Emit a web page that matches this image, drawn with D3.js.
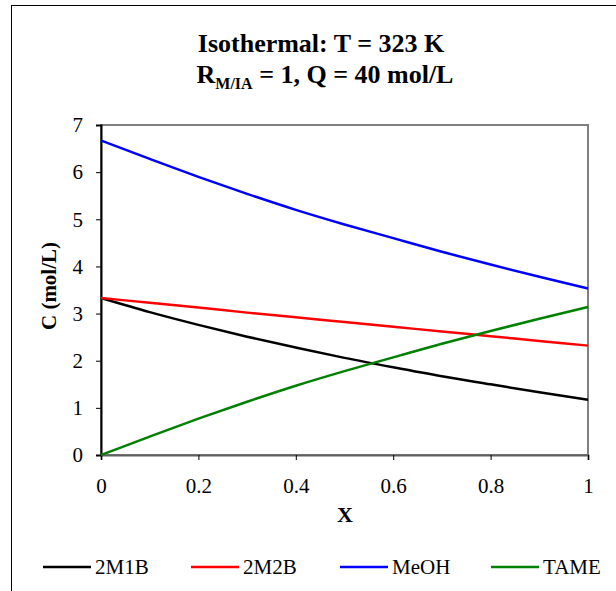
<!DOCTYPE html>
<html>
<head>
<meta charset="utf-8">
<script src="https://cdn.jsdelivr.net/npm/d3@7"></script>
<style>
  body { margin: 0; background: #fff; }
  text { font-family: "Liberation Serif", "Times New Roman", serif; }
</style>
</head>
<body>
<div id="chart"></div>
<script>
// conversion X
var xValues = [0, 0.1, 0.2, 0.3, 0.4, 0.5, 0.6, 0.7, 0.8, 0.9, 1];

// concentrations (mol/L)
var c2M1B = [3.33, 3.03, 2.76, 2.51, 2.28, 2.06, 1.86, 1.67, 1.50, 1.33, 1.17];
var c2M2B = [3.33, 3.23, 3.13, 3.02, 2.92, 2.82, 2.72, 2.62, 2.52, 2.42, 2.32];
var cMeOH = [6.67, 6.28, 5.90, 5.54, 5.20, 4.89, 4.60, 4.31, 4.04, 3.78, 3.53];
var cTAME = [0, 0.39, 0.77, 1.13, 1.47, 1.78, 2.07, 2.36, 2.63, 2.89, 3.14];

var seriesNames = ['2M1B', '2M2B', 'MeOH', 'TAME'];
var seriesColors = ['#000000', '#ff0000', '#0000ff', '#008000'];
var xTicks = [0, 0.2, 0.4, 0.6, 0.8, 1];
var yTicks = [0, 1, 2, 3, 4, 5, 6, 7];

var series = [c2M1B, c2M2B, cMeOH, cTAME].map(function(vals, i) {
  return {
    name: seriesNames[i],
    color: seriesColors[i],
    values: vals.map(function(v, j) { return {x: xValues[j], y: v}; })
  };
});

var width = 616, height = 591;
var margin = {top: 125, right: 28, bottom: 136, left: 101};
var serif = '"Liberation Serif", "Times New Roman", serif';

var svg = d3.select('#chart').append('svg')
  .attr('width', width)
  .attr('height', height);

svg.append('rect')
  .attr('width', width).attr('height', height)
  .attr('fill', '#fff');

// outer chart border (runs off the right / bottom edge)
svg.append('rect')
  .attr('x', 11.5).attr('y', 5.5)
  .attr('width', 700).attr('height', 700)
  .attr('fill', 'none')
  .attr('stroke', '#000')
  .attr('stroke-width', 1);

var x = d3.scaleLinear().domain([0, 1]).range([margin.left, width - margin.right]);
var y = d3.scaleLinear().domain([0, 7]).range([height - margin.bottom, margin.top]);

// title
svg.append('text')
  .attr('x', 321).attr('y', 52)
  .attr('text-anchor', 'middle')
  .style('font-size', '26px')
  .style('font-weight', 'bold')
  .text('Isothermal: T = 323 K');

var t2 = svg.append('text')
  .attr('x', 325).attr('y', 83)
  .attr('text-anchor', 'middle')
  .style('font-size', '26px')
  .style('font-weight', 'bold');
t2.append('tspan').text('R');
t2.append('tspan').attr('dy', 6).style('font-size', '16px').text('M/IA');
t2.append('tspan').attr('dy', -6).text(' = 1, Q = 40 mol/L');

// plot area border
svg.append('rect')
  .attr('x', x(0)).attr('y', y(7))
  .attr('width', x(1) - x(0)).attr('height', y(0) - y(7))
  .attr('fill', 'none')
  .attr('stroke', '#808080')
  .attr('stroke-width', 2);

// axes
var xAxis = svg.append('g')
  .attr('transform', 'translate(0,' + y(0) + ')')
  .call(d3.axisBottom(x).tickValues(xTicks).tickSize(5).tickPadding(18)
    .tickFormat(d3.format('')));
xAxis.attr('font-family', serif).attr('font-size', 21);
xAxis.select('.domain').attr('stroke', '#606060').attr('stroke-width', 2);
xAxis.selectAll('.tick line').attr('stroke', '#000');
xAxis.selectAll('text').attr('fill', '#000');

var yAxis = svg.append('g')
  .attr('transform', 'translate(' + x(0) + ',0)')
  .call(d3.axisLeft(y).tickValues(yTicks).tickSize(5).tickPadding(13)
    .tickFormat(d3.format('d')));
yAxis.attr('font-family', serif).attr('font-size', 21);
yAxis.select('.domain').attr('stroke', '#000').attr('stroke-width', 2);
yAxis.selectAll('.tick line').attr('stroke', '#000');
yAxis.selectAll('text').attr('fill', '#000');

// axis titles
svg.append('text')
  .attr('x', 345).attr('y', 522)
  .attr('text-anchor', 'middle')
  .style('font-size', '22px')
  .style('font-weight', 'bold')
  .text('X');

svg.append('text')
  .attr('transform', 'translate(56,286)rotate(-90)')
  .attr('text-anchor', 'middle')
  .style('font-size', '21px')
  .style('font-weight', 'bold')
  .text('C (mol/L)');

// series lines
var line = d3.line()
  .x(function(d) { return x(d.x); })
  .y(function(d) { return y(d.y); })
  .curve(d3.curveMonotoneX);

svg.selectAll('.series').data(series).enter()
  .append('path')
    .attr('class', 'series')
    .attr('d', function(d) { return line(d.values); })
    .attr('fill', 'none')
    .attr('stroke', function(d) { return d.color; })
    .attr('stroke-width', 2.5);

// legend
var legendX = [43, 191, 340, 491];
var legend = svg.selectAll('.legend').data(series).enter()
  .append('g')
    .attr('class', 'legend')
    .attr('transform', function(d, i) { return 'translate(' + legendX[i] + ',567)'; });

legend.append('line')
  .attr('x1', 0).attr('x2', 48)
  .attr('stroke', function(d) { return d.color; })
  .attr('stroke-width', 2.5);

legend.append('text')
  .attr('x', 52).attr('y', 7)
  .style('font-size', '21px')
  .text(function(d) { return d.name; });
</script>
</body>
</html>
